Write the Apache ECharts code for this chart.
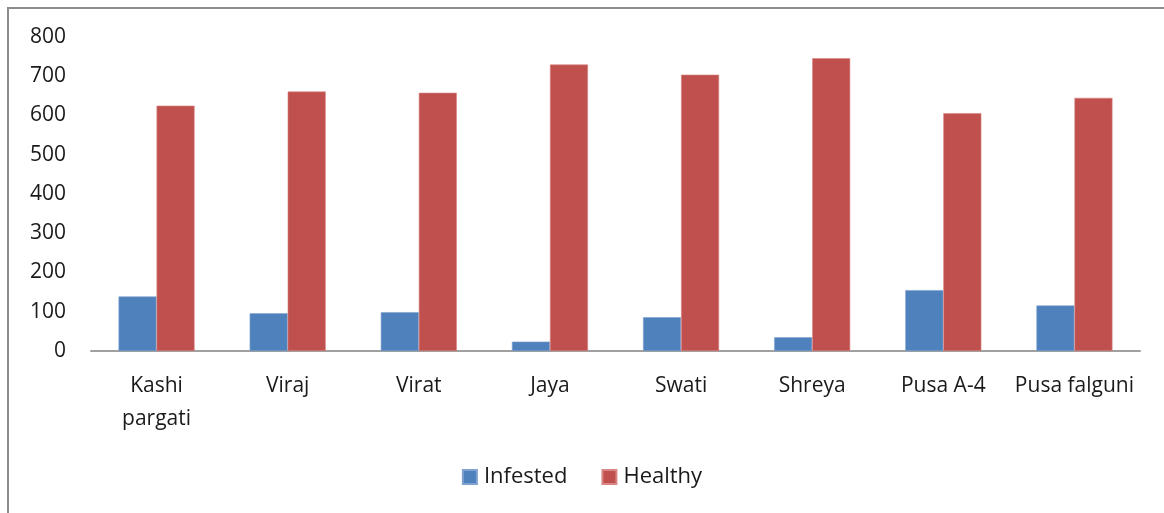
<!DOCTYPE html>
<html>
<head>
<meta charset="utf-8">
<script src="https://cdn.jsdelivr.net/npm/echarts@6/dist/echarts.min.js"></script>
<style>
html,body{margin:0;padding:0;background:#fff;}
#c{width:1164px;height:513px;}
</style>
</head>
<body>
<div id="c"></div>
<script>
const categories = ["Kashi\npargati", "Viraj", "Virat", "Jaya", "Swati", "Shreya", "Pusa A-4", "Pusa falguni"];
const infested = [139, 96, 99, 24, 86, 35, 155, 116];
const healthy = [625, 661, 658, 730, 704, 746, 606, 645];
const seriesNames = ["Infested", "Healthy"];

const chart = echarts.init(document.getElementById('c'), null, {renderer: 'canvas'});
const font = '"Open Sans", Lato, sans-serif';
chart.setOption({
  animation: false,
  backgroundColor: '#ffffff',
  textStyle: {fontFamily: font},
  graphic: [{
    type: 'rect',
    shape: {x: 8, y: 8, width: 1300, height: 700},
    style: {fill: 'none', stroke: '#8c8c8c', lineWidth: 2}
  }],
  legend: {
    data: seriesNames,
    left: 'center',
    top: 461,
    itemWidth: 14,
    itemHeight: 14,
    itemGap: 34,
    icon: 'rect',
    textStyle: {fontSize: 22, color: '#1a1a1a', fontFamily: font, padding: [0, 0, 0, 2]}
  },
  grid: {left: 91, right: 24, top: 37, bottom: 162, containLabel: false},
  xAxis: {
    type: 'category',
    data: categories,
    axisLine: {show: true, lineStyle: {color: '#a0a0a0', width: 2}},
    axisTick: {show: false},
    axisLabel: {fontSize: 21, color: '#1a1a1a', margin: 19, lineHeight: 33, interval: 0, fontFamily: font}
  },
  yAxis: {
    type: 'value',
    min: 0,
    max: 800,
    interval: 100,
    axisLine: {show: false},
    axisTick: {show: false},
    splitLine: {show: false},
    axisLabel: {fontSize: 21, color: '#1a1a1a', margin: 25, fontFamily: font}
  },
  series: [
    {
      name: seriesNames[0],
      type: 'bar',
      data: infested,
      barGap: '0%',
      barCategoryGap: '42%',
      itemStyle: {color: '#4F81BD', borderColor: '#7fa2d0', borderWidth: 0.6}
    },
    {
      name: seriesNames[1],
      type: 'bar',
      data: healthy,
      barGap: '0%',
      barCategoryGap: '42%',
      itemStyle: {color: '#C0504D', borderColor: '#d98784', borderWidth: 0.6}
    }
  ]
});
</script>
</body>
</html>
